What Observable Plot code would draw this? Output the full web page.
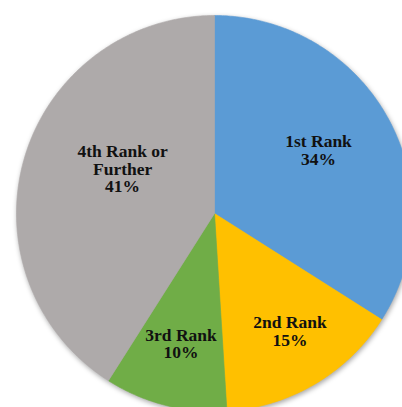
<!DOCTYPE html>
<html><head><meta charset="utf-8">
<script src="https://cdn.jsdelivr.net/npm/d3@7"></script>
<script src="https://cdn.jsdelivr.net/npm/@observablehq/plot@0.6"></script>
<style>html,body{margin:0;padding:0;background:#fff;overflow:hidden}</style>
</head><body><div id="chart"></div>
<script>
const categories = ["1st Rank", "2nd Rank", "3rd Rank", "4th Rank or Further"];
const shares = [34, 15, 10, 41];
const labelLines = ["1st Rank", "2nd Rank", "3rd Rank", "4th Rank or\nFurther"];
const colors = ["#5B9BD5", "#FFC000", "#70AD47", "#AEAAAA"];

const W = 402, H = 407, cx = 214, cy = 213, R = 198;
const arcs = d3.pie().sort(null).value(d => d)(shares);

const pts = [];
arcs.forEach((p, i) => {
  pts.push({cat: categories[i], x: 0, y: 0});
  const n = Math.max(2, Math.ceil((p.endAngle - p.startAngle) / 0.01));
  for (let k = 0; k <= n; k++) {
    const a = p.startAngle + (p.endAngle - p.startAngle) * k / n;
    pts.push({cat: categories[i], x: Math.sin(a), y: Math.cos(a)});
  }
  pts.push({cat: categories[i], x: 0, y: 0});
});

// label placement (radius fraction, angle nudge in degrees)
const place = [{r: 0.615, da: -2.5}, {r: 0.707, da: -2}, {r: 0.68, da: 0}, {r: 0.515, da: 9.5}];
const labelData = arcs.map((p, i) => {
  const a = (p.startAngle + p.endAngle) / 2 + place[i].da * Math.PI / 180;
  return {text: labelLines[i] + "\n" + shares[i] + "%", x: place[i].r * Math.sin(a), y: place[i].r * Math.cos(a)};
});

const chart = Plot.plot({
  width: W, height: H, margin: 0,
  x: {domain: [(0 - cx) / R, (W - cx) / R], range: [0, W], axis: null},
  y: {domain: [(cy - H) / R, cy / R], range: [H, 0], axis: null},
  color: {domain: categories, range: colors},
  style: {background: "#fff"},
  marks: [
    Plot.line(pts, {x: "x", y: "y", z: "cat", fill: "cat", stroke: "cat", strokeWidth: 0.6, curve: "linear"}),
    Plot.text(labelData, {x: "x", y: "y", text: "text", fontSize: 17.5, fontWeight: "bold",
      fontFamily: "'Liberation Serif', 'Times New Roman', serif", fill: "#111", lineHeight: 1.0})
  ]
});
const lineG = chart.querySelector('g[aria-label="line"]');
if (lineG) lineG.style.filter = "drop-shadow(1.5px 2px 2.5px rgba(0,0,0,0.35))";
document.getElementById("chart").appendChild(chart);
</script>
</body></html>
